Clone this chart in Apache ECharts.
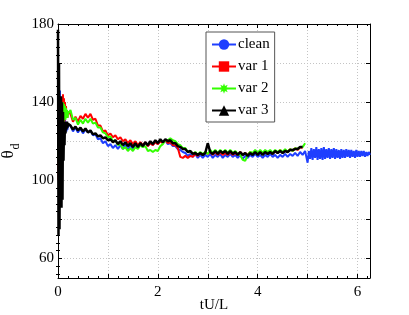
<!DOCTYPE html>
<html>
<head>
<meta charset="utf-8">
<script src="https://cdn.jsdelivr.net/npm/echarts@6/dist/echarts.min.js"></script>
<style>html,body{margin:0;padding:0;background:#fff;}#chart{width:409px;height:315px;}</style>
</head>
<body>
<div id="chart"></div>
<script>
const tValues = [0,0.01,0.02,0.03,0.04,0.05,0.06,0.07,0.08,0.09,0.1,0.11,0.12,0.13,0.14,0.15,0.16,0.17,0.18,0.19,0.2,
0.25,0.3,0.35,0.4,0.45,0.5,0.55,0.6,0.65,0.7,
0.75,0.8,0.85,0.9,0.95,1,1.05,1.1,1.15,1.2,
1.25,1.3,1.35,1.4,1.45,1.5,1.55,1.6,1.65,1.7,
1.75,1.8,1.85,1.9,1.95,2,2.05,2.1,2.15,2.2,
2.25,2.3,2.35,2.4,2.45,2.5,2.55,2.6,2.65,2.7,
2.75,2.8,2.85,2.9,2.95,3,3.05,3.1,3.15,3.2,
3.25,3.3,3.35,3.4,3.45,3.5,3.55,3.6,3.65,3.7,
3.75,3.8,3.85,3.9,3.95,4,4.05,4.1,4.15,4.2,
4.25,4.3,4.35,4.4,4.45,4.5,4.55,4.6,4.65,4.7,
4.75,4.8,4.85,4.9,4.95,
5,5.025,5.05,5.075,5.1,5.125,5.15,5.175,5.2,5.225,
5.25,5.275,5.3,5.325,5.35,5.375,5.4,5.425,5.45,5.475,
5.5,5.525,5.55,5.575,5.6,5.625,5.65,5.675,5.7,5.725,
5.75,5.775,5.8,5.825,5.85,5.875,5.9,5.925,5.95,5.975,
6,6.025,6.05,6.075,6.1,6.125,6.15,6.175,6.2,6.225,
6.25];

const cleanValues = [150,110,145,100,146,105,140,120,138,125,135,128,133,126,131,127,130,125,129,126,128,
128,125,127,124.5,126.5,124,126,124.5,125.5,123,
123.5,121,121.5,119,120,117.5,118.5,116.5,118,116,
118,116,118.5,115.5,118,116,118.5,116.5,119,117,
119.5,117.5,119.5,118,120,118.5,120.5,119,120.5,118.5,
119,117.5,117.5,116,115.5,114.5,114,112.5,113.5,112,
113.5,111.5,113,111.5,113,112,113.5,111.5,113,112,
113.5,111.5,113,112,113.5,112,113,111.5,113,111,
112.5,111.5,113,112,113.5,112,113,111.5,113,112,
113.5,112,113,111.5,113,112,113.5,112,113.5,112.5,
114,112.5,114.5,113,115,
109,115,111,116.5,110.5,116,111.5,117,110.5,116,
111,116.5,110.5,117,111,116,111.5,116.5,111,116,
111.5,116.5,111,116,111.5,115.5,111,116,111.5,115.5,
111.5,116,112,115.5,111.5,115.5,112,115,111.5,115.5,
112,115,112,115,112.5,115,112,114.5,112.5,114.5,
113];

const var1Values = [150,100,140,95,138,105,130,110,135,120,144,125,142,130,140,132,138,133,136,132,135,
134,130,132.5,130,133,131.5,134,132,134,131,
131.5,128,128,125,125.5,123,124,122,123,121,
122,120,121,119,120.5,118.5,120,118,119.5,118,
119.5,117.5,119,118,119.5,118.5,120,119,120.5,119,
119.5,118,118,116.5,112,111.5,112.5,111.5,112.5,112,
113.5,112.5,114,113,114.5,113.5,114.5,113,114.5,113,
114.5,113,114,113,114.5,113,114,113,114.5,113,
114,113,114.5,113.5,115,113.5,115,113.5,114.5,113.5,
115,113.5,115,114,115.5,114,115.5,114.5,116,115,
116.5,115.5,117,116.5];

const var2Values = [148,110,140,100,135,110,132,120,136,125,140,128,139,132,138,131,137,133,136,132,134,
136,131,132,128.5,131,129,131.5,129.5,131.5,129,
129.5,127,127,124.5,124,122,122.5,120,120.5,118,
118.5,116,117,115,116.5,115,117,116,118,117,
117.5,115,115.5,114.5,115.5,115,117.5,118.5,120.5,120.5,
121.5,120.5,120,118.5,118,116.5,116.5,114.5,115,113.5,
114.5,113,114.5,113.5,114.5,113.5,115.5,114,115.5,114,
115.5,114,115.5,114,115.5,114,115,113.5,113,110.5,
110,113,114.5,114,115.5,114,115.5,114,115.5,114.5,
115.5,114,115.5,114.5,115.5,114.5,116,114.5,116,115,
116.5,116,117,117,119];

const var3Values = [177,72,160,75,130,88,143,86,140,90,135,110,128,118,130,124,129,126,130,127,129,
128,126,127.5,125.5,127,125,126.5,124.5,125.5,123.5,
124,122.5,123,121.5,122,120.5,121,119.5,120.5,118.5,
120,118,119.5,117.5,119,117,119,117,119,117.5,
119.5,118,120,118.5,120.5,119,121,119.5,121,120,
120.5,119,119,117.5,117,116,116,114.5,115,113.5,
114,113,114,113,114,119,114.5,113.5,115,113.5,
115,114,115,113.5,115,113.5,114.5,113,114.5,113,
114,112.5,114,113,114.5,113,114.5,113,114.5,113.5,
114.5,113.5,115,114,115,114,115,114.5,115.5,115.5,
116,116,117,117];

const seriesNames = ['clean','var 1','var 2','var 3'];
const seriesColors = ['#1f3fff','#ff0000','#33ff00','#000000'];
const xLabelValues = [0,2,4,6];
const xMajorTicks = [0,1,2,3,4,5,6];
const yLabelValues = [60,100,140,180];
const yMajorTicks = [60,80,100,120,140,160,180];
const yMinorTicks = [52,56,64,68,72,76,84,88,92,96,104,108,112,116,124,128,132,136,144,148,152,156,164,168,172,176];

const starPath = 'path://M10 0 L11.91 5.38 L17.07 2.93 L14.62 8.09 L20 10 L14.62 11.91 L17.07 17.07 L11.91 14.62 L10 20 L8.09 14.62 L2.93 17.07 L5.38 11.91 L0 10 L5.38 8.09 L2.93 2.93 L8.09 5.38 Z';
const symbols = ['circle','rect',starPath,'triangle'];
const allValues = [cleanValues, var1Values, var2Values, var3Values];
const widths = [2,2,2,2.5];

const font = 'Liberation Serif';
const chart = echarts.init(document.getElementById('chart'), null, {renderer:'canvas'});

const xBase = {
  type:'value', min:0, max:6.25, interval:1,
  axisLine:{show:true, onZero:false, lineStyle:{color:'#000', width:1}},
  axisTick:{show:true, inside:true, length:4, customValues:xMajorTicks, lineStyle:{color:'#000'}},
  minorTick:{show:true, splitNumber:5, length:2, lineStyle:{color:'#000'}},
  minorSplitLine:{show:false}
};
const yBase = {
  type:'value', min:50, max:180,
  axisLine:{show:true, onZero:false, lineStyle:{color:'#000', width:1}},
  axisTick:{show:true, inside:true, length:4, customValues:yMajorTicks, lineStyle:{color:'#000'}}
};

const option = {
  animation:false,
  backgroundColor:'#fff',
  grid:{left:58, top:24, right:39, bottom:37, containLabel:false, outerBoundsMode:'none'},
  legend:{
    orient:'vertical', left:206, top:32,
    backgroundColor:'#fff', borderColor:'#555', borderWidth:1,
    padding:[5,5,4,5], itemWidth:24, itemHeight:13, itemGap:7,
    textStyle:{fontFamily:font, fontSize:15, color:'#000', padding:[0,0,0,-3]},
    data:seriesNames
  },
  xAxis:[
    Object.assign({}, xBase, {
      position:'bottom',
      axisLabel:{show:true, customValues:xLabelValues, margin:7, fontFamily:font, fontSize:15, color:'#000'},
      splitLine:{show:true, lineStyle:{color:'#c4c4c4', type:[1,2], width:1}},
      name:'tU/L', nameLocation:'middle', nameGap:20, nameMoveOverlap:false,
      nameTextStyle:{fontFamily:font, fontSize:15, color:'#000'}
    }),
    Object.assign({}, xBase, {
      position:'top', axisLabel:{show:false}, splitLine:{show:false}
    })
  ],
  yAxis:[
    Object.assign({}, yBase, {
      position:'left',
      axisLabel:{show:true, customValues:yLabelValues, margin:4, fontFamily:font, fontSize:15, color:'#000'},
      splitLine:{show:true, lineStyle:{color:'#c4c4c4', type:[1,2], width:1}},
      name:'{a|θ}{b|d}', nameLocation:'middle', nameGap:36, nameRotate:90, nameMoveOverlap:false,
      nameTextStyle:{lineHeight:22, rich:{
        a:{fontFamily:font, fontSize:17, color:'#000', verticalAlign:'top', lineHeight:22},
        b:{fontFamily:font, fontSize:12, color:'#000', verticalAlign:'bottom', lineHeight:22, padding:[10,0,0,1]}
      }}
    }),
    Object.assign({}, yBase, {
      position:'right', axisLabel:{show:false}, splitLine:{show:false}
    }),
    {
      type:'value', min:50, max:180, position:'left',
      axisLine:{show:false}, axisLabel:{show:false}, splitLine:{show:false},
      axisTick:{show:true, inside:true, length:2, customValues:yMinorTicks, lineStyle:{color:'#000'}}
    },
    {
      type:'value', min:50, max:180, position:'right',
      axisLine:{show:false}, axisLabel:{show:false}, splitLine:{show:false},
      axisTick:{show:true, inside:true, length:2, customValues:yMinorTicks, lineStyle:{color:'#000'}}
    }
  ],
  series: seriesNames.map((name, si) => ({
    name: name,
    type:'line',
    xAxisIndex:0, yAxisIndex:0,
    data: allValues[si].map((v, i) => [tValues[i], v]),
    showSymbol:false,
    symbol: symbols[si],
    symbolSize: si === 2 ? 14 : 12,
    lineStyle:{color:seriesColors[si], width:widths[si]},
    itemStyle:{color:seriesColors[si]},
    emphasis:{disabled:true},
    z: 2 + si
  }))
};
chart.setOption(option);
</script>
</body>
</html>
